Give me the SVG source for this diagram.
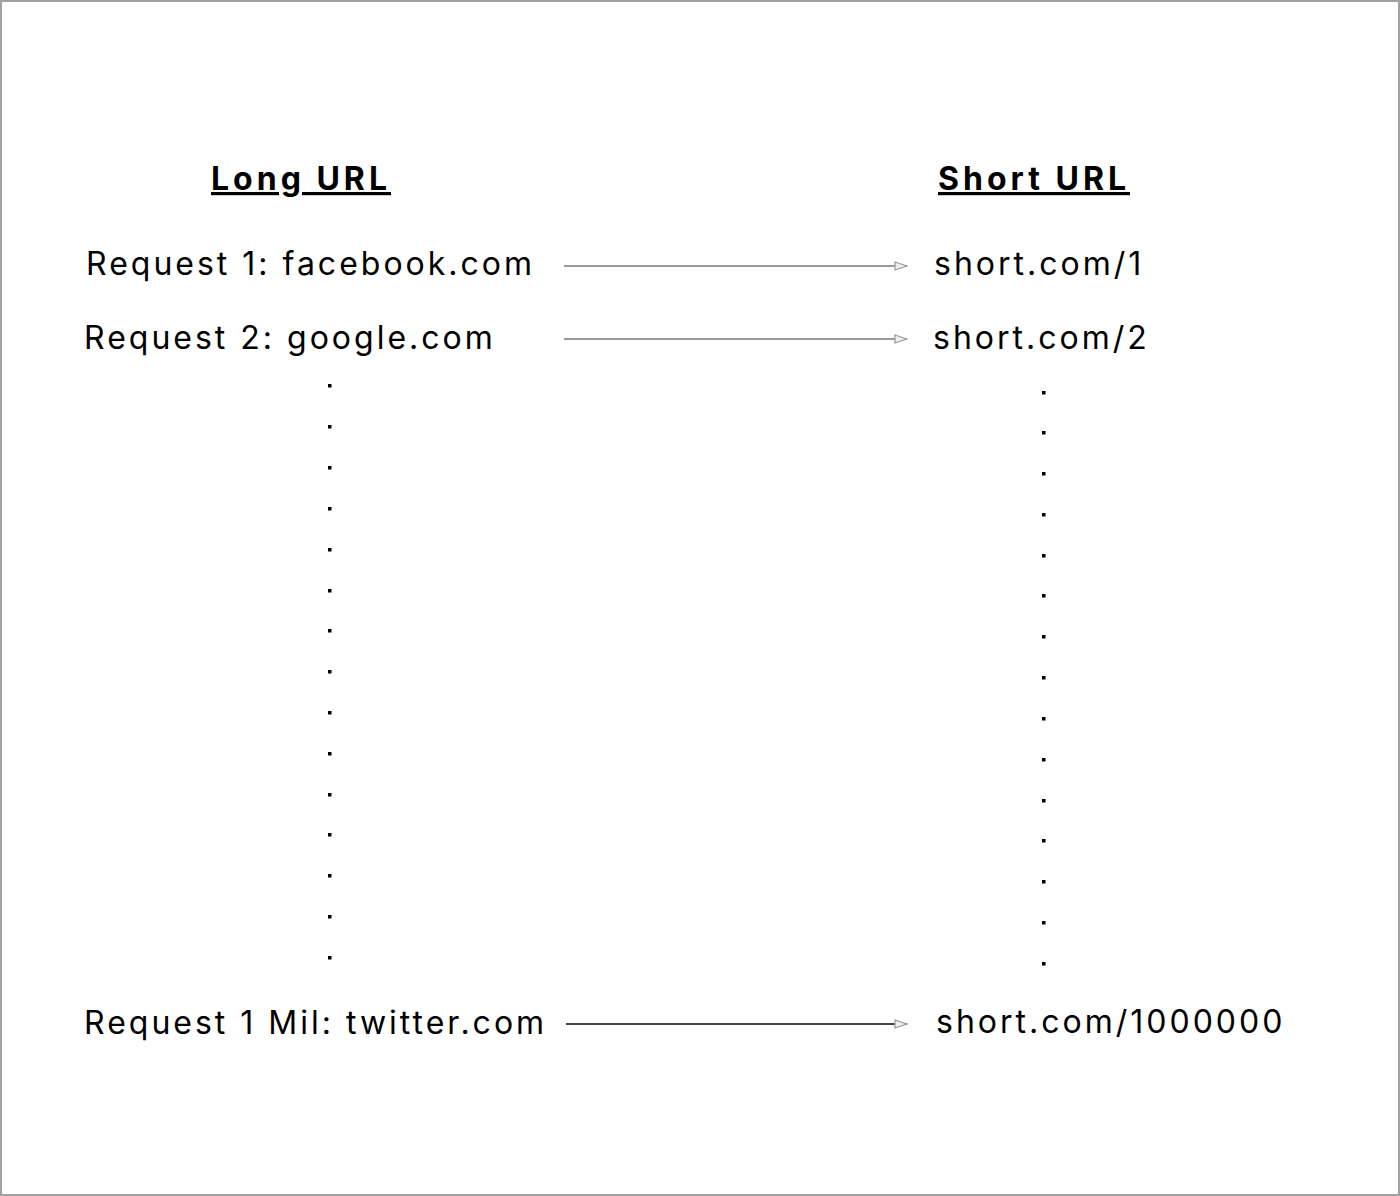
<svg xmlns="http://www.w3.org/2000/svg" width="1400" height="1196" viewBox="0 0 1400 1196">
<style>
.t{font-family:Inter,"Liberation Sans",sans-serif;font-size:32px;fill:#000;letter-spacing:3px}
.h{font-family:Inter,"Liberation Sans",sans-serif;font-size:32px;font-weight:700;fill:#000;text-decoration:underline;letter-spacing:4px}
.c{stroke:#999;stroke-width:2;fill:none}
.d{fill:#000}
</style>
<defs>
<marker id="ah" viewBox="0 0 14 10" refX="13" refY="5" markerWidth="14" markerHeight="10" markerUnits="userSpaceOnUse" orient="auto">
<path d="M1,1 L13,5 L1,9 Z" fill="#eee" stroke="#999" stroke-width="1.2"/>
</marker>
</defs>
<rect x="1" y="1" width="1398" height="1194" fill="#fff" stroke="#a0a0a0" stroke-width="2"/>
<g id="header-long"><text class="h" x="211" y="190">Long URL</text></g>
<g id="header-short"><text class="h" x="938" y="190">Short URL</text></g>
<g id="req1"><text class="t" x="86" y="275">Request 1: facebook.com</text></g>
<g id="req2"><text class="t" x="84" y="349">Request 2: google.com</text></g>
<g id="req3"><text class="t" x="84" y="1034">Request 1 Mil: twitter.com</text></g>
<g id="short1"><text class="t" x="934" y="275">short.com/1</text></g>
<g id="short2"><text class="t" x="933" y="349">short.com/2</text></g>
<g id="short3"><text class="t" x="936" y="1033">short.com/1000000</text></g>
<g id="dots-left" class="d">
<rect x="328" y="384" width="3.5" height="3.5"/><rect x="328" y="425" width="3.5" height="3.5"/><rect x="328" y="466" width="3.5" height="3.5"/><rect x="328" y="507" width="3.5" height="3.5"/><rect x="328" y="548" width="3.5" height="3.5"/><rect x="328" y="589" width="3.5" height="3.5"/><rect x="328" y="629" width="3.5" height="3.5"/><rect x="328" y="670" width="3.5" height="3.5"/><rect x="328" y="711" width="3.5" height="3.5"/><rect x="328" y="752" width="3.5" height="3.5"/><rect x="328" y="793" width="3.5" height="3.5"/><rect x="328" y="833" width="3.5" height="3.5"/><rect x="328" y="874" width="3.5" height="3.5"/><rect x="328" y="915" width="3.5" height="3.5"/><rect x="328" y="956" width="3.5" height="3.5"/>
</g>
<g id="dots-right" class="d">
<rect x="1042" y="391" width="3.5" height="3.5"/><rect x="1042" y="431" width="3.5" height="3.5"/><rect x="1042" y="472" width="3.5" height="3.5"/><rect x="1042" y="513" width="3.5" height="3.5"/><rect x="1042" y="554" width="3.5" height="3.5"/><rect x="1042" y="594" width="3.5" height="3.5"/><rect x="1042" y="635" width="3.5" height="3.5"/><rect x="1042" y="676" width="3.5" height="3.5"/><rect x="1042" y="717" width="3.5" height="3.5"/><rect x="1042" y="758" width="3.5" height="3.5"/><rect x="1042" y="799" width="3.5" height="3.5"/><rect x="1042" y="839" width="3.5" height="3.5"/><rect x="1042" y="880" width="3.5" height="3.5"/><rect x="1042" y="921" width="3.5" height="3.5"/><rect x="1042" y="962" width="3.5" height="3.5"/>
</g>
<g id="connectors">
<line class="c" x1="564" y1="266" x2="907" y2="266" marker-end="url(#ah)"/>
<line class="c" x1="564" y1="339" x2="907" y2="339" marker-end="url(#ah)"/>
<line class="c" x1="566" y1="1024" x2="907" y2="1024" style="stroke:#444" marker-end="url(#ah)"/>
</g>
</svg>
